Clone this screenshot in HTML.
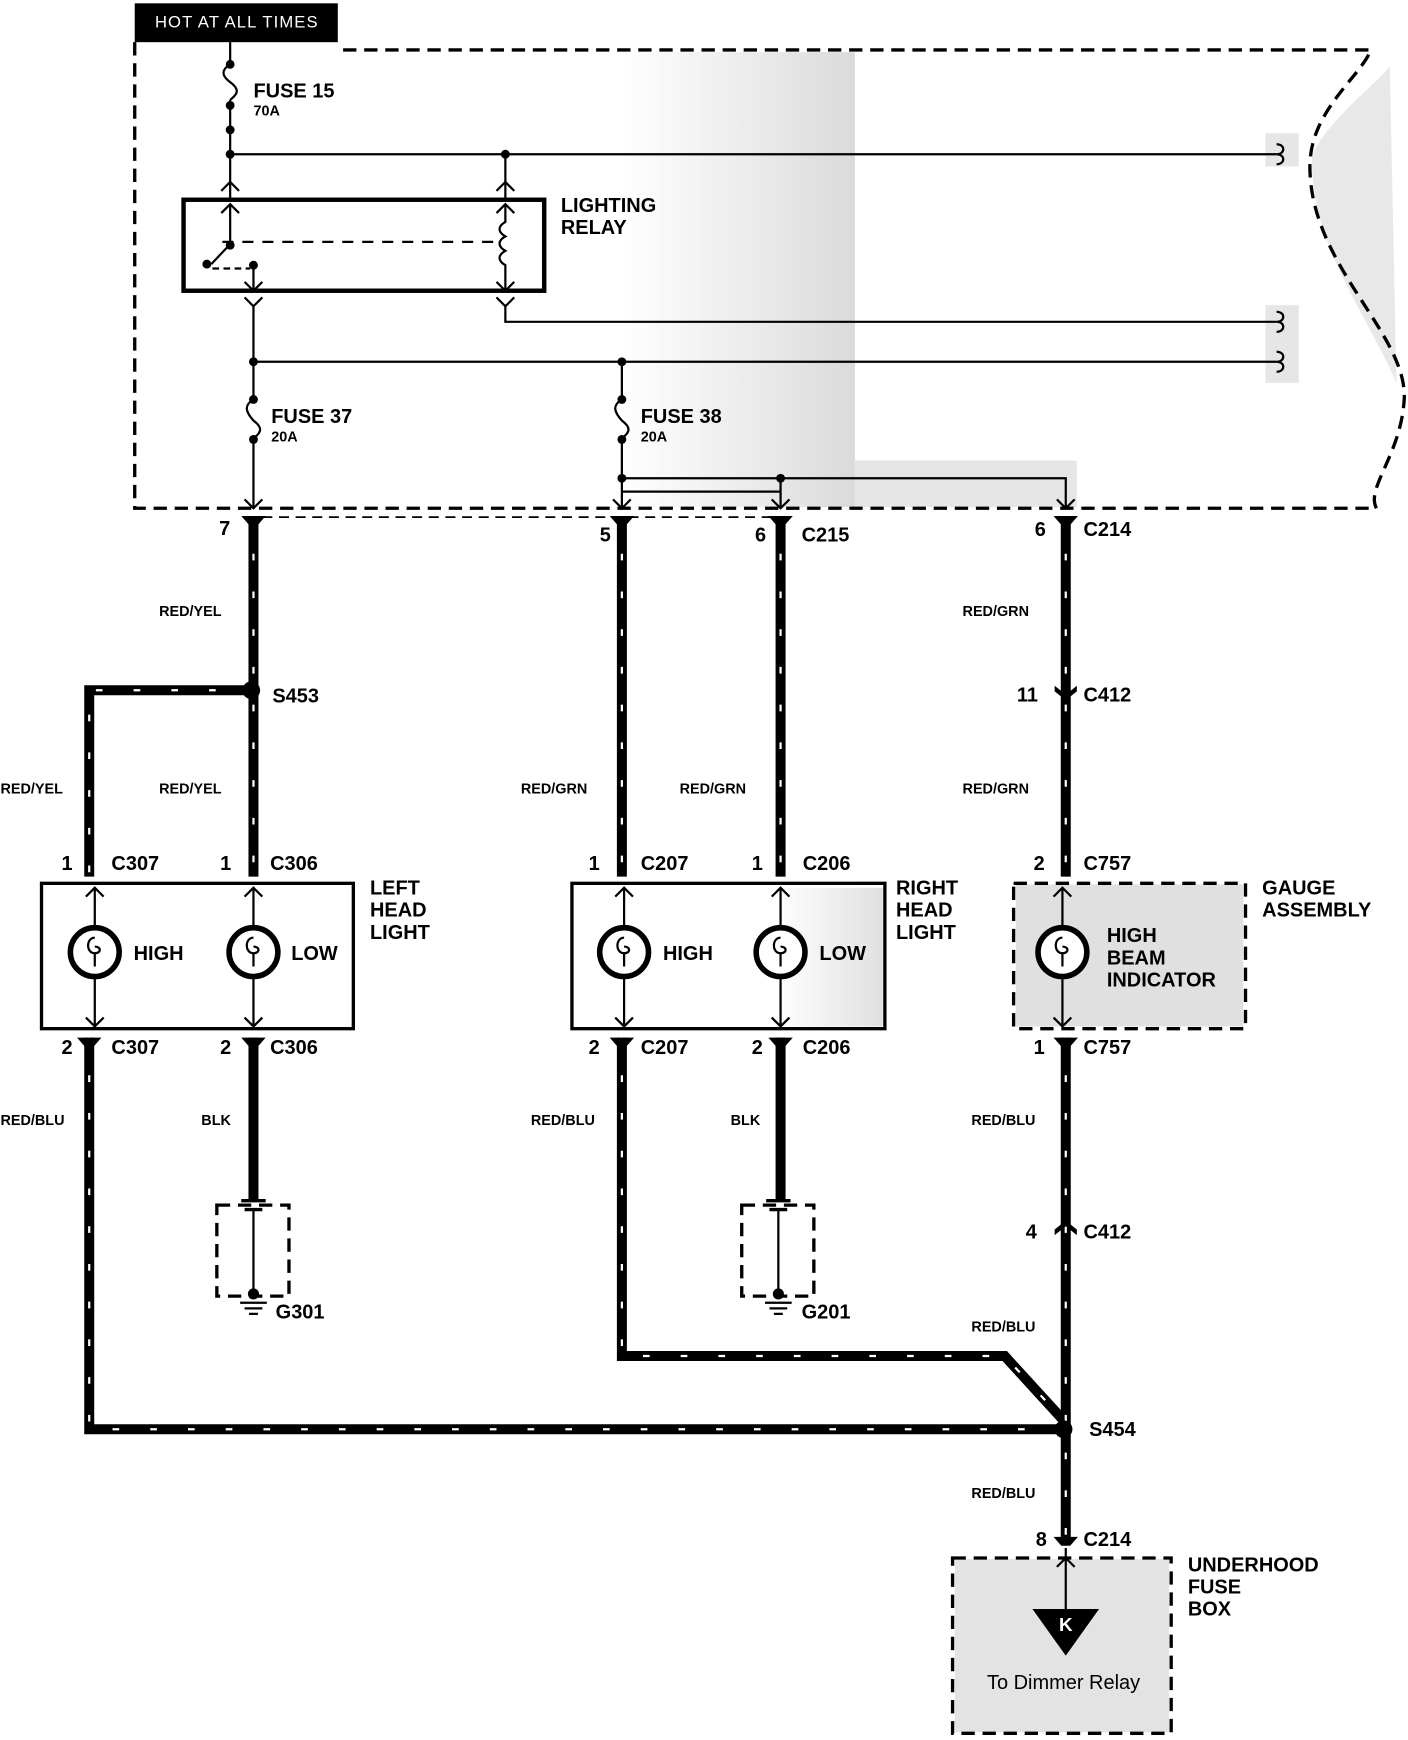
<!DOCTYPE html>
<html><head><style>
html,body{margin:0;padding:0;background:#fff;}
svg{display:block;}
text{font-family:"Liberation Sans",sans-serif;font-weight:bold;fill:#000;}
.l{font-size:18px;}
.s{font-size:13px;}
.t{fill:none;stroke:#000;stroke-width:2;}
.tw{fill:none;stroke:#000;stroke-width:9;}
.wd{fill:none;stroke:#fff;stroke-width:2;stroke-dasharray:6 28;}
.d{fill:none;stroke:#000;stroke-width:3;stroke-dasharray:12 7;}
</style></head><body>
<svg width="1408" height="1740" viewBox="0 0 1268 1568" xmlns="http://www.w3.org/2000/svg">
<defs>
<linearGradient id="g1" x1="0" x2="1"><stop offset="0" stop-color="#fff"/><stop offset="0.7" stop-color="#e6e6e6"/><stop offset="1" stop-color="#dadada"/></linearGradient>
<linearGradient id="g2" x1="0" x2="1"><stop offset="0" stop-color="#fff"/><stop offset="1" stop-color="#e0e0e0"/></linearGradient>
</defs>
<rect x="560" y="47" width="210" height="410" fill="url(#g1)"/>
<rect x="770" y="415" width="200" height="42" fill="#e6e6e6"/>
<rect x="1140" y="120" width="30" height="30" fill="#e6e6e6"/>
<rect x="1140" y="275" width="30" height="70" fill="#e6e6e6"/>
<path d="M1182,140 C1180,220 1230,280 1258,345 L1252,60 C1235,80 1195,110 1182,140 Z" fill="#e8e8e8"/>
<rect x="700" y="800" width="95" height="125" fill="url(#g2)"/>
<rect x="915" y="797" width="205" height="128" fill="#e0e0e0"/>
<rect x="860" y="1405" width="193" height="156" fill="#e3e3e3"/>

<rect x="121" y="3" width="183" height="35" fill="#000"/>
<text x="213" y="25" text-anchor="middle" style="fill:#fff;font-size:15px;font-weight:normal;letter-spacing:1px">HOT AT ALL TIMES</text>

<path class="d" d="M121,38 L121,458 L1240,458 C1230,440 1262,410 1265,360 C1268,300 1180,240 1180,150 C1180,100 1225,70 1235,45 L304,45"/>

<path class="t" d="M207,38 V58 M207,90 V180"/>
<path class="t" d="M207,58 c-8,5 -8,10 0,16 c8,6 8,10 0,16"/>
<circle cx="207" cy="58" r="4"/><circle cx="207" cy="95" r="4"/><circle cx="207" cy="117" r="4"/><circle cx="207" cy="139" r="4"/>
<text class="l" x="228" y="88">FUSE 15</text><text class="s" x="228" y="104">70A</text>
<path class="t" d="M207,139 H1150 M455,139 V180"/>
<circle cx="455" cy="139" r="4"/>
<path class="t" d="M1150,130 c8,0 8,9 0,9 c8,0 8,9 0,9"/>
<path class="t" d="M199,172 l8,-8 l8,8 M447,172 l8,-8 l8,8"/>

<rect x="165" y="180" width="325" height="82" fill="none" stroke="#000" stroke-width="4"/>
<text class="l" x="505" y="191">LIGHTING</text><text class="l" x="505" y="211">RELAY</text>
<path class="t" d="M207,185 V220 L190,238 M199,192 l8,-8 l8,8"/>
<circle cx="207" cy="221" r="4"/><circle cx="186" cy="238" r="4"/><circle cx="228" cy="239" r="4"/>
<path class="t" d="M191,242 H225" stroke-dasharray="6 4"/>
<path d="M200,218 H450" fill="none" stroke="#000" stroke-width="2" stroke-dasharray="10 8"/>
<path class="t" d="M228,239 V262 M220,254 l8,8 l8,-8"/>
<path class="t" d="M455,185 V200 c-7,4 -7,9 0,13 c-7,4 -7,9 0,13 c-7,4 -7,9 0,13 V262 M447,192 l8,-8 l8,8 M447,254 l8,8 l8,-8"/>
<path class="t" d="M220,268 l8,8 l8,-8 M228,276 V458 M447,268 l8,8 l8,-8 M455,276 V290 H1150"/>
<path class="t" d="M1150,281 c8,0 8,9 0,9 c8,0 8,9 0,9"/>
<path class="t" d="M228,326 H1150 M560,326 V458"/>
<path class="t" d="M1150,317 c8,0 8,9 0,9 c8,0 8,9 0,9"/>
<circle cx="228" cy="326" r="4"/><circle cx="560" cy="326" r="4"/>
<rect x="222" y="360" width="12" height="38" fill="#fff"/>
<path class="t" d="M228,360 c-8,5 -8,10 0,19 c8,6 8,10 0,16"/>
<circle cx="228" cy="360" r="4"/><circle cx="228" cy="396" r="4"/>
<text class="l" x="244" y="381">FUSE 37</text><text class="s" x="244" y="398">20A</text>
<rect x="554" y="360" width="12" height="38" fill="#fff"/>
<path class="t" d="M560,360 c-8,5 -8,10 0,19 c8,6 8,10 0,16"/>
<circle cx="560" cy="360" r="4"/><circle cx="560" cy="396" r="4"/>
<text class="l" x="577" y="381">FUSE 38</text><text class="s" x="577" y="398">20A</text>
<path class="t" d="M560,431 H960 V458 M703,431 V458 M560,443 H703"/>
<circle cx="560" cy="431" r="4"/><circle cx="703" cy="431" r="4"/>
<path class="t" d="M220,450 l8,8 l8,-8 M552,450 l8,8 l8,-8 M695,450 l8,8 l8,-8 M952,450 l8,8 l8,-8"/>
<path d="M236,466 H700" fill="none" stroke="#000" stroke-width="1.5" stroke-dasharray="9 6"/>

<text class="l" x="197" y="482">7</text>
<text class="l" x="540" y="488">5</text>
<text class="l" x="680" y="488">6</text><text class="l" x="722" y="488">C215</text>
<text class="l" x="932" y="483">6</text><text class="l" x="976" y="483">C214</text>

<g>
<path class="tw" d="M228,465 V790 M228,622 H80 V790 M560,465 V790 M703,465 V790 M960,465 V790"/>
<path class="wd" d="M228,465 V790 M228,622 H80 V790 M560,465 V790 M703,465 V790 M960,465 V790"/>
<path class="tw" d="M80,935 V1288 H958 M228,935 V1082 M560,935 V1222 H905 L958,1280 M703,935 V1082 M960,935 V1390"/>
<path class="wd" d="M80,935 V1288 H958 M560,935 V1222 H905 L958,1280 M960,935 V1390"/>
</g>
<g fill="#000">
<path d="M217,465 h22 l-7,8 h-8 z M549,465 h22 l-7,8 h-8 z M692,465 h22 l-7,8 h-8 z M949,465 h22 l-7,8 h-8 z"/>
<path d="M950,618 l10,8 l10,-8 v5 l-10,8 l-10,-8 z"/>
<path d="M950,1108 l10,-8 l10,8 v5 l-10,-8 l-10,8 z"/>
<path d="M69,935 h22 l-7,8 h-8 z M217,935 h22 l-7,8 h-8 z M549,935 h22 l-7,8 h-8 z M692,935 h22 l-7,8 h-8 z M949,935 h22 l-7,8 h-8 z M949,1385 h22 l-7,8 h-8 z"/>
</g>
<circle cx="226" cy="622" r="8" fill="#000"/><circle cx="958" cy="1288" r="8" fill="#000"/>
<text class="l" x="245" y="633">S453</text>
<text class="l" x="981" y="1294">S454</text>
<text class="l" x="916" y="632">11</text><text class="l" x="976" y="632">C412</text>
<text class="l" x="924" y="1116">4</text><text class="l" x="976" y="1116">C412</text>

<text class="s" x="143" y="555">RED/YEL</text>
<text class="s" x="0" y="715">RED/YEL</text>
<text class="s" x="143" y="715">RED/YEL</text>
<text class="s" x="469" y="715">RED/GRN</text>
<text class="s" x="612" y="715">RED/GRN</text>
<text class="s" x="867" y="555">RED/GRN</text>
<text class="s" x="867" y="715">RED/GRN</text>
<text class="s" x="0" y="1014">RED/BLU</text>
<text class="s" x="181" y="1014">BLK</text>
<text class="s" x="478" y="1014">RED/BLU</text>
<text class="s" x="658" y="1014">BLK</text>
<text class="s" x="875" y="1014">RED/BLU</text>
<text class="s" x="875" y="1200">RED/BLU</text>
<text class="s" x="875" y="1350">RED/BLU</text>

<text class="l" x="55" y="784">1</text><text class="l" x="100" y="784">C307</text>
<text class="l" x="198" y="784">1</text><text class="l" x="243" y="784">C306</text>
<text class="l" x="530" y="784">1</text><text class="l" x="577" y="784">C207</text>
<text class="l" x="677" y="784">1</text><text class="l" x="723" y="784">C206</text>
<text class="l" x="931" y="784">2</text><text class="l" x="976" y="784">C757</text>
<text class="l" x="55" y="950">2</text><text class="l" x="100" y="950">C307</text>
<text class="l" x="198" y="950">2</text><text class="l" x="243" y="950">C306</text>
<text class="l" x="530" y="950">2</text><text class="l" x="577" y="950">C207</text>
<text class="l" x="677" y="950">2</text><text class="l" x="723" y="950">C206</text>
<text class="l" x="931" y="950">1</text><text class="l" x="976" y="950">C757</text>
<text class="l" x="933" y="1393">8</text><text class="l" x="976" y="1393">C214</text>

<rect x="37" y="796" width="281" height="131" fill="none" stroke="#000" stroke-width="3"/>
<rect x="515" y="796" width="282" height="131" fill="none" stroke="#000" stroke-width="3"/>
<rect x="913" y="796" width="209" height="131" fill="none" stroke="#000" stroke-width="3" stroke-dasharray="12 7"/>
<text class="l" x="333" y="806">LEFT</text><text class="l" x="333" y="826">HEAD</text><text class="l" x="333" y="846">LIGHT</text>
<text class="l" x="807" y="806">RIGHT</text><text class="l" x="807" y="826">HEAD</text><text class="l" x="807" y="846">LIGHT</text>
<text class="l" x="1137" y="806">GAUGE</text><text class="l" x="1137" y="826">ASSEMBLY</text>
<g>
<path class="t" d="M85,800 V836 M85,880 V925 M228,800 V836 M228,880 V925 M562,800 V836 M562,880 V925 M703,800 V836 M703,880 V925 M957,800 V836 M957,880 V925"/>
<path class="t" d="M77,808 l8,-8 l8,8 M220,808 l8,-8 l8,8 M554,808 l8,-8 l8,8 M695,808 l8,-8 l8,8 M949,808 l8,-8 l8,8 M77,917 l8,8 l8,-8 M220,917 l8,8 l8,-8 M554,917 l8,8 l8,-8 M695,917 l8,8 l8,-8 M949,917 l8,8 l8,-8"/>
<g fill="#fff" stroke="#000" stroke-width="5">
<circle cx="85" cy="858" r="22"/><circle cx="228" cy="858" r="22"/><circle cx="562" cy="858" r="22"/><circle cx="703" cy="858" r="22"/><circle cx="957" cy="858" r="22"/>
</g>
<g fill="none" stroke="#000" stroke-width="2">
<path d="M85,845 c-8,0 -8,14 0,14 c6,0 6,-6 0,-6 M85,859 V871"/>
<path d="M228,845 c-8,0 -8,14 0,14 c6,0 6,-6 0,-6 M228,859 V871"/>
<path d="M562,845 c-8,0 -8,14 0,14 c6,0 6,-6 0,-6 M562,859 V871"/>
<path d="M703,845 c-8,0 -8,14 0,14 c6,0 6,-6 0,-6 M703,859 V871"/>
<path d="M957,845 c-8,0 -8,14 0,14 c6,0 6,-6 0,-6 M957,859 V871"/>
</g>
</g>
<text class="l" x="120" y="865">HIGH</text><text class="l" x="262" y="865">LOW</text>
<text class="l" x="597" y="865">HIGH</text><text class="l" x="738" y="865">LOW</text>
<text class="l" x="997" y="849">HIGH</text><text class="l" x="997" y="869">BEAM</text><text class="l" x="997" y="889">INDICATOR</text>

<g>
<rect x="195" y="1086" width="65" height="82" fill="none" stroke="#000" stroke-width="3" stroke-dasharray="12 7"/>
<rect x="668" y="1086" width="65" height="82" fill="none" stroke="#000" stroke-width="3" stroke-dasharray="12 7"/>
<path d="M217,1082 h22 M220,1090 h16" stroke="#000" stroke-width="3"/>
<path d="M690,1082 h22 M693,1090 h16" stroke="#000" stroke-width="3"/>
<path class="t" d="M228,1090 V1166 M701,1090 V1166"/>
<circle cx="228" cy="1166" r="5"/><circle cx="701" cy="1166" r="5"/>
<path class="t" d="M216,1174 h24 M220,1179 h16 M224,1184 h8 M689,1174 h24 M693,1179 h16 M697,1184 h8"/>
</g>
<text class="l" x="248" y="1188">G301</text><text class="l" x="722" y="1188">G201</text>

<rect x="858" y="1404" width="197" height="158" fill="none" stroke="#000" stroke-width="3" stroke-dasharray="12 7"/>
<text class="l" x="1070" y="1416">UNDERHOOD</text><text class="l" x="1070" y="1436">FUSE</text><text class="l" x="1070" y="1456">BOX</text>
<path class="t" d="M960,1395 V1450 M952,1412 l8,-8 l8,8"/>
<path d="M930,1450 H990 L960,1492 Z" fill="#000"/>
<text x="960" y="1470" text-anchor="middle" style="fill:#fff;font-size:17px">K</text>
<text x="958" y="1522" text-anchor="middle" style="font-size:18px;font-weight:normal">To Dimmer Relay</text>
</svg>
</body></html>
